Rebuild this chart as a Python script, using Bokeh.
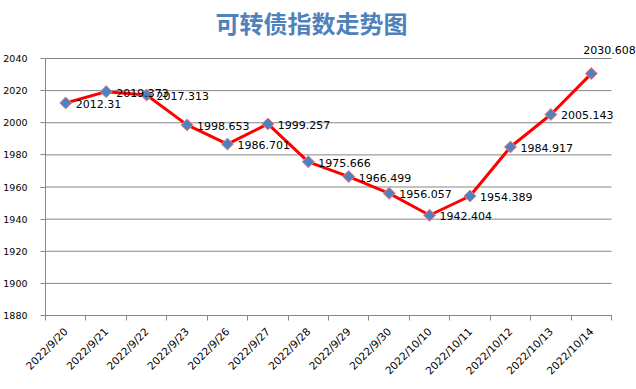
import math
from bokeh.plotting import figure
from bokeh.models import ColumnDataSource, FixedTicker, Range1d, LabelSet, Label
from bokeh.core.properties import value
from bokeh.embed import file_html
from bokeh.resources import INLINE

title_text = "可转债指数走势图"
dates = ["2022/9/20", "2022/9/21", "2022/9/22", "2022/9/23", "2022/9/26", "2022/9/27",
         "2022/9/28", "2022/9/29", "2022/9/30", "2022/10/10", "2022/10/11", "2022/10/12",
         "2022/10/13", "2022/10/14"]
index_values = [2012.31, 2019.373, 2017.313, 1998.653, 1986.701, 1999.257, 1975.666,
                1966.499, 1956.057, 1942.404, 1954.389, 1984.917, 2005.143, 2030.608]
label_texts = ["2012.31", "2019.373", "2017.313", "1998.653", "1986.701", "1999.257",
               "1975.666", "1966.499", "1956.057", "1942.404", "1954.389", "1984.917",
               "2005.143", "2030.608"]
y_ticks = [1880, 1900, 1920, 1940, 1960, 1980, 2000, 2020, 2040]

# layout (pixels)
W, H = 636, 389
left, bottom = 44, 74
plot_top, plot_right = 58, 611
n = len(dates)
y0, y1 = y_ticks[0], y_ticks[-1]
frame_h = H - bottom
frame_w = W - left
y_end = y1 + (y1 - y0) * plot_top / (frame_h - plot_top)
x_end = n * frame_w / (plot_right - left)

xs = [i + 0.5 for i in range(n)]
x_off = [10] * (n - 1) + [-8]
y_off = [-1] * (n - 1) + [24]
src = ColumnDataSource(dict(x=xs, y=index_values, t=label_texts, xo=x_off, yo=y_off))

p = figure(width=W, height=H, output_backend="svg", toolbar_location=None,
           x_range=Range1d(0, x_end), y_range=Range1d(y0, y_end),
           min_border_left=left, min_border_right=0, min_border_top=0,
           min_border_bottom=bottom)
p.outline_line_color = None
p.background_fill_color = "white"
p.border_fill_color = "white"

p.xgrid.grid_line_color = None
p.ygrid.grid_line_color = None

# horizontal gridlines across the category area only
p.segment(x0=[0] * len(y_ticks), x1=[n] * len(y_ticks), y0=y_ticks, y1=y_ticks,
          line_color="#868686", line_width=1, level="underlay")

p.yaxis.ticker = FixedTicker(ticks=y_ticks)
p.yaxis.bounds = (y0, y1)
p.yaxis.axis_line_color = "#868686"
p.yaxis.major_tick_line_color = "#868686"
p.yaxis.major_tick_out = 5
p.yaxis.major_tick_in = 0
p.yaxis.minor_tick_line_color = None
p.yaxis.major_label_text_font = "DejaVu Sans"
p.yaxis.major_label_text_font_size = "9.5px"
p.yaxis.major_label_text_color = "black"
p.yaxis.major_label_standoff = 13

p.xaxis.ticker = FixedTicker(ticks=xs, minor_ticks=list(range(n + 1)))
p.xaxis.bounds = (0, n)
p.xaxis.major_label_overrides = {x: d for x, d in zip(xs, dates)}
p.xaxis.axis_line_color = "#868686"
p.xaxis.major_tick_line_color = None
p.xaxis.minor_tick_line_color = "#868686"
p.xaxis.minor_tick_out = 5
p.xaxis.minor_tick_in = 0
p.xaxis.major_label_orientation = math.pi / 4
p.xaxis.major_label_text_font = "DejaVu Sans"
p.xaxis.major_label_text_font_size = "10.5px"
p.xaxis.major_label_text_color = "black"
p.xaxis.major_label_standoff = 8

p.line("x", "y", source=src, line_color="#FF0000", line_width=3)
p.scatter("x", "y", source=src, marker="square", size=8.5, angle=math.pi / 4,
          fill_color="#4F81BD", line_color="#F08080", line_width=1)

labels = LabelSet(x="x", y="y", text="t", source=src, x_offset="xo", y_offset="yo",
                  text_font=value("DejaVu Sans"), text_font_size=value("11px"),
                  text_color="black", text_baseline="middle", text_align="left")
p.add_layout(labels)

title = Label(x=310 - left, y=frame_h - 22, x_units="screen", y_units="screen",
              text=title_text, text_font="Noto Sans CJK SC", text_font_size="24px",
              text_font_style="bold", text_color="#4F81BD", text_align="center",
              text_baseline="middle")
p.add_layout(title)

open("out.html", "w").write(file_html(p, INLINE))
